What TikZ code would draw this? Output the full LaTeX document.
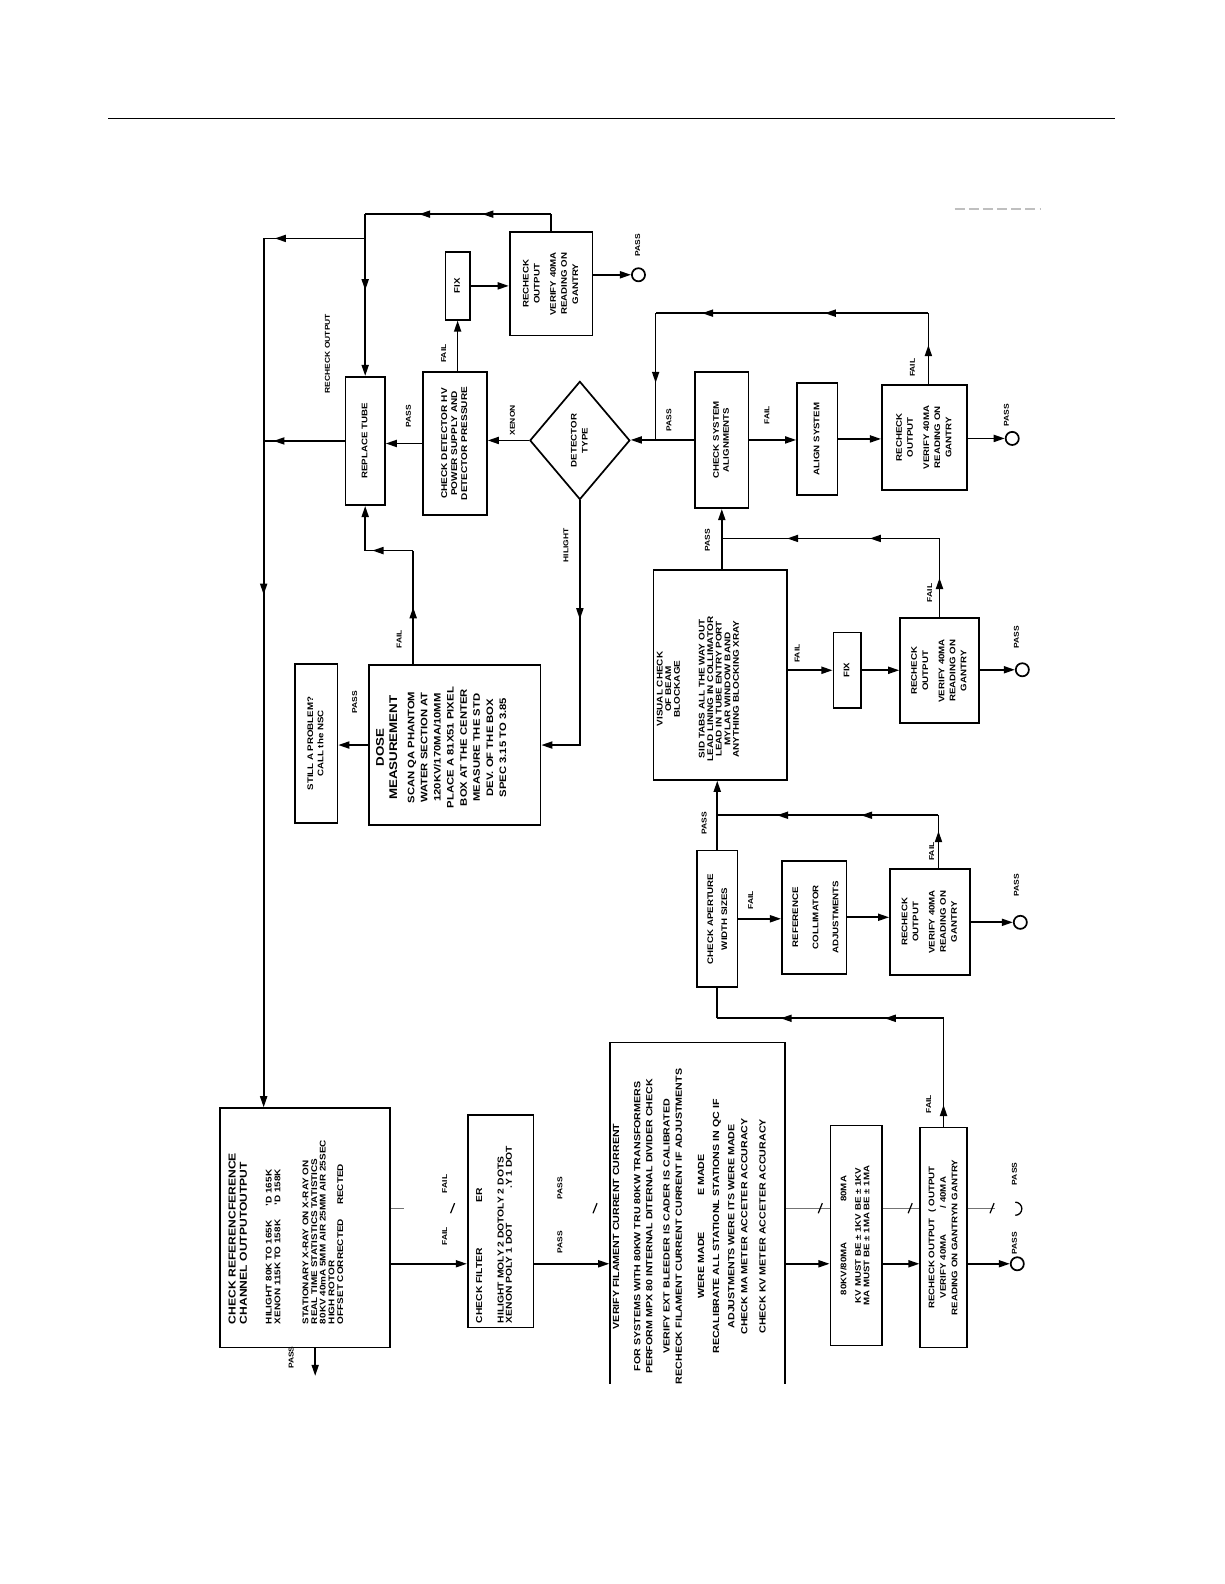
\documentclass[tikz,border=0pt]{standalone}
\usepackage{fontspec}
\setmainfont{Liberation Sans}[FakeStretch=1.2]
\usepackage{graphicx}
\usetikzlibrary{arrows.meta,positioning,calc,shapes.geometric,decorations.markings}
\newcommand{\vt}[2][c]{\rotatebox{90}{\begin{tabular}{@{}#1@{}}#2\end{tabular}}}
\newcommand{\fsz}[2]{\fontsize{#1}{#2}\selectfont}
\newcommand{\rechk}{\vt{RECHECK\\OUTPUT\\[5pt]VERIFY 40MA\\READING ON\\GANTRY}}

\begin{document}
\begin{tikzpicture}[x=1pt,y=-1pt,>={Triangle[length=11pt,width=7pt]},
 box/.style={draw,line width=1.7pt,inner sep=0pt,font=\fsz{8}{11}\bfseries},
 txt/.style={inner sep=0pt,font=\fsz{8}{11}\bfseries},
 lbl/.style={inner sep=0pt,font=\fsz{7}{8}\bfseries},
 line/.style={line width=1.7pt},
 ghost/.style={line width=0.6pt,black!55},
 endpt/.style={draw,circle,line width=1.7pt,minimum size=13pt,inner sep=0pt},
 mid/.style={postaction={decorate},decoration={markings,mark=at position #1 with {\arrow{>}}}},
 mid2/.style 2 args={postaction={decorate},decoration={markings,mark=at position #1 with {\arrow{>}},mark=at position #2 with {\arrow{>}}}}]
\useasboundingbox (0,0) rectangle (1212,1568);
\draw[line width=0.8pt] (107,117) -- (1104,117);
\draw[black!25,line width=2pt,dash pattern=on 10pt off 4pt] (945,207) -- (1030,207);

% tube / detector branch
\node[box,minimum width=39,minimum height=127] (rt) at (361.5,436.5) {\vt{REPLACE TUBE}};
\node[box,minimum width=63,minimum height=142,font=\fsz{8.3}{10}\bfseries] (cd) at (450.5,439) {\vt{CHECK DETECTOR HV\\POWER SUPPLY AND\\DETECTOR PRESSURE}};
\node[box,minimum width=24,minimum height=67] (fix1) at (453,283) {\vt{FIX}};
\node[box,minimum width=82,minimum height=102] (rc1) at (545.5,281) {\rechk};
\node[endpt] (p1) at (632,272) {};
\node[diamond,draw,line width=1.7pt,minimum width=99,minimum height=117,inner sep=0pt,font=\fsz{8}{11}\bfseries] (det) at (574,436) {\vt{DETECTOR\\TYPE}};

% alignment row
\node[box,minimum width=53,minimum height=135,font=\fsz{8}{10}\bfseries] (csa) at (714.5,435.5) {\vt{CHECK SYSTEM\\ALIGNMENTS}};
\node[box,minimum width=40,minimum height=111] (aln) at (809,434.5) {\vt{ALIGN SYSTEM}};
\node[box,minimum width=84,minimum height=104] (rc2) at (915,433) {\rechk};
\node[endpt] (p2) at (1002,434) {};

% dose and beam blockage
\node[box,minimum width=42,minimum height=158,font=\fsz{8}{10}\bfseries] (still) at (313,736) {\vt{STILL A PROBLEM?\\CALL the NSC}};
\node[box,minimum width=170,minimum height=159] (dose) at (450,737.5) {};
\node[txt] (dosetxt) at (438,740) {\fsz{9.3}{13}\vt{{\fsz{11}{14}DOSE}\\{\fsz{11}{14}MEASUREMENT}\\[4pt]SCAN QA PHANTOM\\WATER SECTION AT\\120KV/170MA/10MM\\PLACE A 81X51 PIXEL\\BOX AT THE CENTER\\MEASURE THE STD\\DEV. OF THE BOX\\SPEC 3.15 TO 3.85}};
\node[box,minimum width=132,minimum height=208] (vis) at (713,668) {};
\node[txt] (vistxt) at (692,682) {\fsz{8.2}{8.5}\vt{VISUAL CHECK\\OF BEAM\\BLOCKAGE\\[16pt]SID TABS ALL THE WAY OUT\\LEAD LINING IN COLLIMATOR\\LEAD IN TUBE ENTRY PORT\\MYLAR WINDOW BAND\\ANYTHING BLOCKING XRAY}};
\node[box,minimum width=27,minimum height=75] (fix2) at (838.5,663.5) {\vt{FIX}};
\node[box,minimum width=78,minimum height=104] (rc3) at (930,664) {\rechk};
\node[endpt] (p3) at (1012,663) {};

% aperture row
\node[box,minimum width=40,minimum height=135,font=\fsz{8}{14}\bfseries] (cap) at (710,909.5) {\vt{CHECK APERTURE\\WIDTH SIZES}};
\node[box,minimum width=64,minimum height=112,font=\fsz{8}{20}\bfseries] (coll) at (806,908) {\vt{REFERENCE\\COLLIMATOR\\ADJUSTMENTS}};
\node[box,minimum width=79,minimum height=105] (rc4) at (920.5,912.5) {\rechk};
\node[endpt] (p4) at (1010,913) {};

% bottom row
\node[box,minimum width=168,minimum height=237] (ref) at (302,1215.5) {};
\node[txt,anchor=south west] (reftxt) at ($(ref.south west)+(9,-24)$) {\fsz{8.2}{8.6}\vt[l]{{\fsz{10}{12}CHECK REFERENCFERENCE}\\[1.5pt]{\fsz{10}{12}CHANNEL OUTPUTOUTPUT}\\[16pt]HILIGHT 80K TO 165K\hspace{14pt}'D 165K\\XENON 115K TO 158K\hspace{14pt}'D 158K\\[19pt]STATIONARY X-RAY ON X-RAY ON\\REAL TIME STATISTICS TATISTICS\\80KV 40mA 5MM AIR 25MM AIR 25SEC\\HIGH ROTOR\\OFFSET CORRECTED\hspace{14pt}RECTED}};
\node[box,minimum width=65,minimum height=210] (filt) at (495.5,1209) {};
\node[txt,anchor=south west] (filttxt) at ($(filt.south west)+(9,-5)$) {\fsz{8.5}{7.5}\vt[l]{CHECK FILTER\hspace{45pt}ER\\[13pt]HILIGHT MOLY 2 DOTOLY 2 DOTS\\XENON POLY 1 DOT\hspace{34pt}.Y 1 DOT}};
\begin{scope}
\clip (0,0) rectangle (1212,1370);
\node[box,minimum width=173,minimum height=368] (vfc) at (690.5,1216) {};
\end{scope}
\node[txt] (vfctxt) at (683,1214) {\fsz{8.8}{12}\vt{VERIFY FILAMENT CURRENT CURRENT\\[9pt]FOR SYSTEMS WITH 80KW TRU 80KW TRANSFORMERS\\PERFORM MPX 80 INTERNAL DITERNAL DIVIDER CHECK\\[5pt]VERIFY EXT BLEEDER IS CADER IS CALIBRATED\\RECHECK FILAMENT CURRENT CURRENT IF ADJUSTMENTS\\[10pt]WERE MADE\hspace{36pt}E MADE\\[3pt]RECALIBRATE ALL STATIONL STATIONS IN QC IF\\[3pt]ADJUSTMENTS WERE ITS WERE MADE\\[1pt]CHECK MA METER ACCETER ACCURACY\\[6pt]CHECK KV METER ACCETER ACCURACY}};
\node[box,minimum width=51,minimum height=218] (kv) at (847.5,1223) {\fsz{8}{8.5}\vt{80KV/80MA\hspace{40pt}80MA\\[6pt]KV MUST BE ± 1KV BE ± 1KV\\MA MUST BE ± 1MA BE ± 1MA}};
\node[box,minimum width=46,minimum height=218] (rc5) at (934,1225) {\fsz{8}{11.5}\vt{RECHECK OUTPUT\hspace{6pt}( OUTPUT\\VERIFY 40MA\hspace{26pt}/ 40MA\\READING ON GANTRYN GANTRY}};
\node[endpt] (p5) at (1007,1251) {};

% labels
\node[lbl] (lrecheck) at (325,350) {\vt{RECHECK OUTPUT}};
\node[lbl] (lfail1) at (440,350) {\vt{FAIL}};
\node[lbl] (lpass1) at (632,243) {\vt{PASS}};
\node[lbl] (lpass2) at (405,412) {\vt{PASS}};
\node[lbl] (lxenon) at (508,416) {\vt{XENON}};
\node[lbl] (lhil) at (561,540) {\vt{HILIGHT}};
\node[lbl] (lpass3) at (663,416) {\vt{PASS}};
\node[lbl] (lfail2) at (760,411) {\vt{FAIL}};
\node[lbl] (lfail3) at (904,364) {\vt{FAIL}};
\node[lbl] (lpass4) at (997,411) {\vt{PASS}};
\node[lbl] (lpass5) at (352,695) {\vt{PASS}};
\node[lbl] (lfail4) at (396,633) {\vt{FAIL}};
\node[lbl] (lpass6) at (701,535) {\vt{PASS}};
\node[lbl] (lfail5) at (790,647) {\vt{FAIL}};
\node[lbl] (lfail6) at (921,587) {\vt{FAIL}};
\node[lbl] (lpass7) at (1007,631) {\vt{PASS}};
\node[lbl] (lpass8) at (698,815) {\vt{PASS}};
\node[lbl] (lfail7) at (744,891) {\vt{FAIL}};
\node[lbl] (lfail8) at (923,843) {\vt{FAIL}};
\node[lbl] (lpass9) at (1007,876) {\vt{PASS}};
\node[lbl] (lfail9) at (920,1093) {\vt{FAIL}};
\node[lbl] (lfail10) at (441,1224) {\vt{FAIL}};
\node[lbl] (lfail11) at (441,1172) {\vt{FAIL}};
\node[lbl] (lpass10) at (555,1230) {\vt{PASS}};
\node[lbl] (lpass11) at (555,1176) {\vt{PASS}};
\node[lbl] (lpass12) at (1005,1231) {\vt{PASS}};
\node[lbl] (lpass13) at (1005,1162) {\vt{PASS}};
\node[lbl] (lpass14) at (289,1344) {\vt{PASS}};

% connectors, top part
\coordinate (top) at (361.5,212);
\coordinate (tR) at (rc1.north |- top);
\coordinate (mT) at (261,236);
\draw[line] (rc1.north) -- (tR);
\draw[line,mid2={0.37}{0.71}] (tR) -- (top);
\draw[line,mid=0.47,->] (top) -- (rt.north);
\draw[line,mid=0.89] (top |- mT) -- (mT);
\draw[line,mid=0.41,->] (mT) -- (mT |- ref.north);
\draw[line,mid=0.88] (rt.west) -- (rt.west -| mT);
\draw[line,->] (cd.west) -- (cd.west -| rt.east);
\draw[line,->] (det.west) -- (det.west -| cd.east);
\draw[line,->] (fix1.south |- cd.north) -- (fix1.south);
\draw[line,->] (fix1.east) -- (fix1.east -| rc1.west);
\draw[line,->] (p1 -| rc1.east) -- (p1);
\draw[line,mid=0.42,->] (det.south) |- (dose.east);
\coordinate (dfA) at (409,545);
\coordinate (dfB) at (rt.south |- dfA);
\draw[line,mid=0.5] (dfA |- dose.north) -- (dfA);
\draw[line,mid=0.85] (dfA) -- (dfB);
\draw[line,->] (dfB) -- (rt.south);
\draw[line,->] (dose.west) -- (dose.west -| still.east);

% alignment loop
\coordinate (aL) at (649,310);
\coordinate (aR) at (919,310);
\draw[line,->] (csa.west) -- (csa.west -| det.east);
\draw[line,->] (csa.east) -- (csa.east -| aln.west);
\draw[line,->] (aln.east) -- (aln.east -| rc2.west);
\draw[line,->] (p2 -| rc2.east) -- (p2);
\draw[line,mid=0.55] (aR |- rc2.north) -- (aR);
\draw[line,mid2={0.38}{0.83}] (aR) -- (aL);
\draw[line,mid=0.55] (aL) -- (aL |- csa.west);

% beam blockage loop
\coordinate (vL) at (714.5,533);
\coordinate (vR) at (930,533);
\draw[line,->] (csa.south |- vis.north) -- (csa.south);
\draw[line,mid=0.5] (rc3.north) -- (vR);
\draw[line,mid2={0.32}{0.7}] (vR) -- (vL);
\draw[line,->] (vis.east |- fix2.west) -- (fix2.west);
\draw[line,->] (fix2.east) -- (fix2.east -| rc3.west);
\draw[line,->] (p3 -| rc3.east) -- (p3);

% aperture loop
\coordinate (cL) at (710,807);
\coordinate (cR) at (929,807);
\draw[line,->] (cap.north) -- (cap.north |- vis.south);
\draw[line,mid=0.7] (cR |- rc4.north) -- (cR);
\draw[line,mid2={0.35}{0.73}] (cR) -- (cL);
\draw[line,->] (cap.east) -- (cap.east -| coll.west);
\draw[line,->] (coll.east) -- (coll.east -| rc4.west);
\draw[line,->] (p4 -| rc4.east) -- (p4);
\coordinate (bL) at (710,1008);
\coordinate (bR) at (934,1008);
\draw[line,mid=0.2] (rc5.north) -- (bR);
\draw[line,mid2={0.26}{0.72}] (bR) -- (bL);
\draw[line] (bL) -- (cap.south);

% bottom row
\coordinate (row) at (0,1251);
\coordinate (grow) at (0,1196);
\coordinate (rpass) at (312,1362);
\draw[line,->] (ref.east |- row) -- (filt.west |- row);
\draw[line,->] (filt.east |- row) -- (vfc.west |- row);
\draw[line,->] (vfc.east |- row) -- (kv.west |- row);
\draw[line,->] (kv.east |- row) -- (rc5.west |- row);
\draw[line,->] (rc5.east |- row) -- (p5);
\draw[line,->] (rpass |- ref.south) -- (rpass);

% ghost print
\coordinate (g1) at (400,1196);
\coordinate (g2) at (985,1196);
\draw[ghost] (ref.east |- grow) -- (g1);
\draw[ghost] (vfc.east |- grow) -- (kv.west |- grow);
\draw[ghost] (kv.east |- grow) -- (rc5.west |- grow);
\draw[ghost] (rc5.east |- grow) -- (g2);
\foreach \gx in {448,589,812,901,982}
  \draw[line width=1.2pt] (\gx-2,1201) -- (\gx+2,1191);
\draw[line width=1.3pt] (1005,1190) arc[start angle=-90,end angle=90,radius=6.5];
\end{tikzpicture}
\end{document}
